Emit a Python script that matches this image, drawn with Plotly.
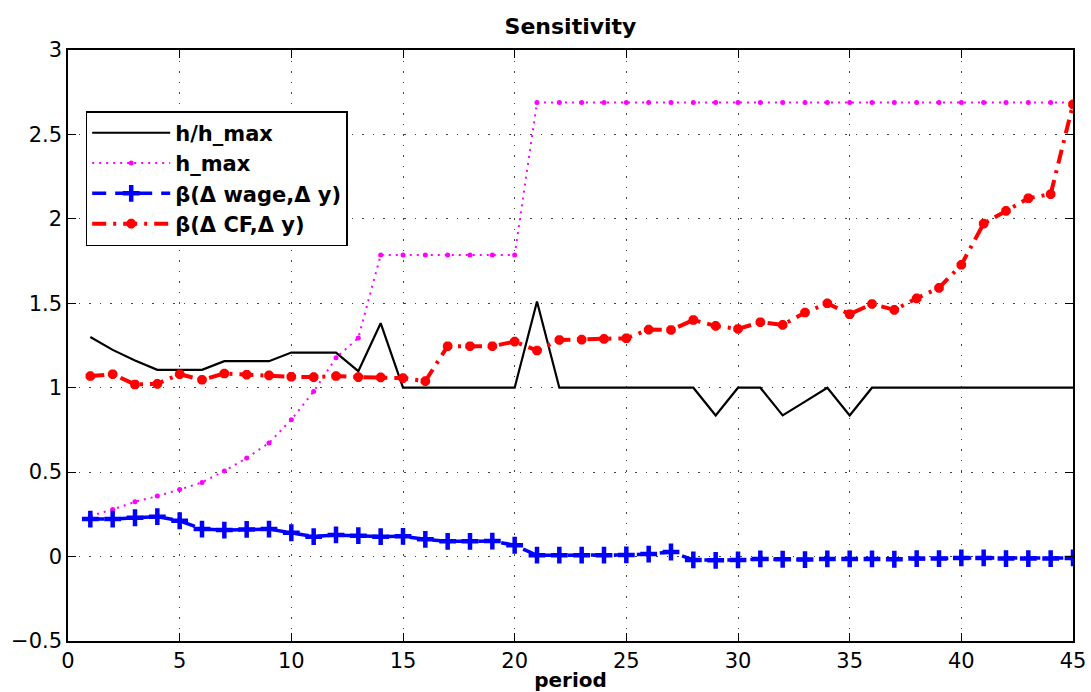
import plotly.graph_objects as go

# period index
period = list(range(1, 46))

# hours relative to the maximum
h_ratio = [1.30, 1.224, 1.161, 1.106, 1.106, 1.106, 1.157, 1.157, 1.157, 1.208,
           1.208, 1.208, 1.098, 1.382, 1.0, 1.0, 1.0, 1.0, 1.0, 1.0,
           1.511, 1.0, 1.0, 1.0, 1.0, 1.0, 1.0, 1.0, 0.836, 1.0,
           1.0, 0.836, 0.918, 1.0, 0.836, 1.0, 1.0, 1.0, 1.0, 1.0,
           1.0, 1.0, 1.0, 1.0, 1.0]

# maximum hours
h_max = [0.24, 0.279, 0.324, 0.358, 0.397, 0.439, 0.507, 0.584, 0.673, 0.811,
         0.978, 1.177, 1.295, 1.786, 1.786, 1.786, 1.786, 1.786, 1.786, 1.786,
         2.689, 2.689, 2.689, 2.689, 2.689, 2.689, 2.689, 2.689, 2.689, 2.689,
         2.689, 2.689, 2.689, 2.689, 2.689, 2.689, 2.689, 2.689, 2.689, 2.689,
         2.689, 2.689, 2.689, 2.689, 2.689]

# beta of wage changes on output changes
beta_wage = [0.222, 0.222, 0.230, 0.236, 0.212, 0.163, 0.157, 0.161, 0.163, 0.141,
             0.118, 0.128, 0.124, 0.118, 0.120, 0.102, 0.090, 0.090, 0.092, 0.067,
             0.008, 0.008, 0.008, 0.008, 0.010, 0.015, 0.027, -0.020, -0.022, -0.020,
             -0.014, -0.016, -0.018, -0.014, -0.014, -0.014, -0.016, -0.012, -0.012, -0.008,
             -0.008, -0.012, -0.012, -0.012, -0.008]

# beta of cash-flow changes on output changes
beta_cf = [1.069, 1.080, 1.019, 1.023, 1.080, 1.047, 1.084, 1.077, 1.073, 1.065,
           1.063, 1.069, 1.063, 1.061, 1.057, 1.039, 1.246, 1.246, 1.246, 1.273,
           1.220, 1.283, 1.285, 1.289, 1.293, 1.344, 1.342, 1.401, 1.366, 1.348,
           1.388, 1.372, 1.445, 1.500, 1.435, 1.496, 1.461, 1.529, 1.591, 1.728,
           1.972, 2.047, 2.122, 2.146, 2.678]

x_ticks = [0, 5, 10, 15, 20, 25, 30, 35, 40, 45]
y_ticks = [-0.5, 0, 0.5, 1, 1.5, 2, 2.5, 3]

FONT = "DejaVu Sans"

fig = go.Figure()

fig.add_trace(go.Scatter(
    x=period, y=h_ratio, name="h/h_max", mode="lines",
    line=dict(color="black", width=2.2),
))
fig.add_trace(go.Scatter(
    x=period, y=h_max, name="h_max", mode="lines+markers",
    line=dict(color="#ff00ff", width=2, dash="2px,5px"),
    marker=dict(symbol="circle", size=5, color="#ff00ff"),
))
fig.add_trace(go.Scatter(
    x=period, y=beta_wage, name="β(Δ wage,Δ y)", mode="lines+markers",
    line=dict(color="#0000ff", width=3.5, dash="14px,9px"),
    marker=dict(symbol="cross-thin", size=12, color="#0000ff",
                line=dict(color="#0000ff", width=4.5)),
))
fig.add_trace(go.Scatter(
    x=period, y=beta_cf, name="β(Δ CF,Δ y)", mode="lines+markers",
    line=dict(color="#ff0000", width=4, dash="14px,7px,3px,7px"),
    marker=dict(symbol="asterisk-open", size=8, color="#ff0000",
                line=dict(color="#ff0000", width=3.5)),
))

axis_common = dict(
    showline=True, linecolor="black", linewidth=1.5, mirror="ticks",
    ticks="inside", ticklen=8, tickcolor="black", tickwidth=1.2,
    showgrid=True, gridcolor="#444444", gridwidth=1, griddash="1.5px,9px",
    zeroline=False, automargin=False,
    tickfont=dict(family=FONT, size=21, color="black"),
)

fig.update_xaxes(
    range=[0, 45], tickmode="array", tickvals=x_ticks,
    title=dict(text="period",
               font=dict(family=FONT, size=20, color="black", weight="bold"),
               standoff=12),
    **axis_common,
)
fig.update_yaxes(
    range=[-0.5, 3], tickmode="array", tickvals=y_ticks,
    ticktext=["\u22120.5", "0", "0.5", "1", "1.5", "2", "2.5", "3"],
    **axis_common,
)

fig.update_layout(
    width=1091, height=692,
    margin=dict(l=68, r=18, t=50, b=51),
    paper_bgcolor="white", plot_bgcolor="white",
    title=dict(text="Sensitivity", x=0.5, xref="paper",
               y=1 - 26 / 692, yref="container", yanchor="middle",
               font=dict(family=FONT, size=22, color="black", weight="bold")),
    legend=dict(
        x=0.0176, y=0.8966, xanchor="left", yanchor="top",
        bgcolor="white", bordercolor="black", borderwidth=1.5,
        font=dict(family=FONT, size=21, color="black", weight="bold"),
        itemwidth=78,
        tracegroupgap=0,
    ),
    showlegend=True,
)

fig.write_html("out.html")
